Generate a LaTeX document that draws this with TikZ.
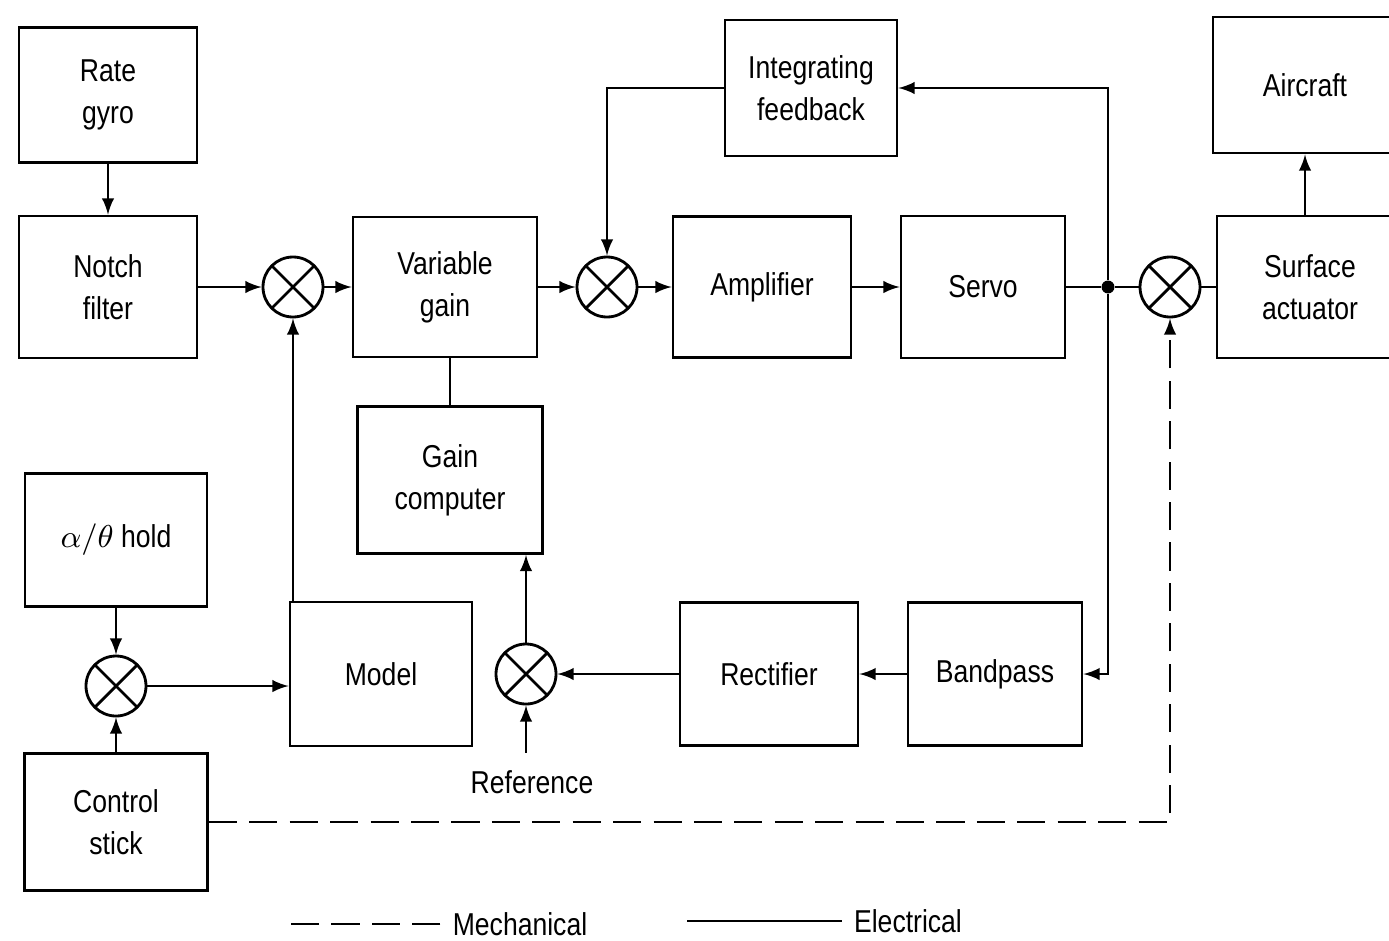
\documentclass[tikz,border=0pt]{standalone}
\usepackage{fontspec}
\setmainfont{Liberation Sans}[FakeStretch=0.84]
\usepackage{tikz}
\usetikzlibrary{arrows,calc,positioning}

\tikzset{
	block/.style={draw, thick, rectangle, align=center, inner sep=2pt},
	mixer/.style={draw, thick, circle, minimum size=6mm, inner sep=0pt,
		path picture={\draw[thick] (path picture bounding box.north west) -- (path picture bounding box.south east)
			(path picture bounding box.north east) -- (path picture bounding box.south west);}},
	elec/.style={semithick},
	mech/.style={semithick, dash pattern=on 8pt off 3.5pt},
	dot/.style={circle, fill, inner sep=1.3pt}
}

\begin{document}
\begin{tikzpicture}[>=latex, font=\fontsize{9}{12}\selectfont]
	\useasboundingbox (0,0) rectangle (13.89,9.40);

	% top row
	\node[block, minimum width=1.78cm, minimum height=1.35cm] (gyro)  at (1.08,8.45)  {Rate\\gyro};
	\node[block, minimum width=1.78cm, minimum height=1.42cm] (notch) at (1.08,6.53)  {Notch\\filter};
	\node[mixer]                                              (sum1)  at (2.93,6.53)  {};
	\node[block, minimum width=1.84cm, minimum height=1.40cm] (vgain) at (4.45,6.53)  {Variable\\gain};
	\node[mixer]                                              (sum2)  at (6.07,6.53)  {};
	\node[block, minimum width=1.72cm, minimum height=1.36cm] (intfb) at (8.11,8.52)  {Integrating\\feedback};
	\node[block, minimum width=1.78cm, minimum height=1.41cm] (amp)   at (7.62,6.53)  {Amplifier};
	\node[block, minimum width=1.64cm, minimum height=1.42cm] (servo) at (9.83,6.53)  {Servo};
	\node[dot]                                                (jn)    at (11.08,6.53) {};
	\node[mixer]                                              (sum3)  at (11.70,6.53) {};
	\node[block, minimum width=1.86cm, minimum height=1.42cm] (surf)  at (13.10,6.53) {Surface\\actuator};
	\node[block, minimum width=1.84cm, minimum height=1.36cm] (acft)  at (13.05,8.55) {Aircraft};
	\node[block, minimum width=1.85cm, minimum height=1.47cm] (gcomp) at (4.50,4.60)  {Gain\\computer};

	% bottom rows
	\node[block, minimum width=1.82cm, minimum height=1.33cm] (hold)  at (1.16,4.00)  {$\alpha/\theta$ hold};
	\node[mixer]                                              (sum4)  at (1.16,2.54)  {};
	\node[block, minimum width=1.83cm, minimum height=1.37cm] (stick) at (1.16,1.18)  {Control\\stick};
	\node[block, minimum width=1.82cm, minimum height=1.44cm] (model) at (3.81,2.66)  {Model};
	\node[mixer]                                              (sum5)  at (5.26,2.66)  {};
	\node[block, minimum width=1.78cm, minimum height=1.43cm] (rect)  at (7.69,2.66)  {Rectifier};
	\node[block, minimum width=1.74cm, minimum height=1.43cm] (bpass) at (9.95,2.66)  {Bandpass};
	\node[inner sep=0pt]                                      (ref)   at (5.32,1.58)  {Reference};

	% electrical paths
	\draw[elec,->] (gyro) -- (notch);
	\draw[elec,->] (notch) -- (sum1);
	\draw[elec,->] (sum1) -- (vgain);
	\draw[elec,->] (vgain) -- (sum2);
	\draw[elec,->] (sum2) -- (amp);
	\draw[elec,->] (amp) -- (servo);
	\draw[elec] (servo) -- (jn) -- (sum3);
	\draw[elec] (sum3) -- (surf);
	\draw[elec,->] (surf.north -| acft) -- (acft.south);
	\draw[elec,->] (jn) |- (intfb.east);
	\draw[elec,->] (intfb.west) -| (sum2);
	\draw[elec,->] (jn) |- (bpass.east);
	\draw[elec,->] (bpass) -- (rect);
	\draw[elec,->] (rect) -- (sum5);
	\draw[elec,->] (sum5) -- (sum5 |- gcomp.south);
	\draw[elec,->] (ref.north -| sum5) ++(0,0.17) -- (sum5);
	\draw[elec] (gcomp.north) -- (gcomp.north |- vgain.south);
	\draw[elec,->] (sum1 |- model.north) -- (sum1);
	\draw[elec,->] (hold) -- (sum4);
	\draw[elec,->] (stick) -- (sum4);
	\draw[elec,->] (sum4) -- (sum4 -| model.west);

	% mechanical link
	\draw[mech,->] (stick.east) -| (sum3);

	% key
	\node (mkey) at (5.20,0.16) {Mechanical};
	\node (ekey) at (9.08,0.19) {Electrical};
	\draw[mech] (mkey.west) -- ++(-1.55,0);
	\draw[elec] (ekey.west) -- ++(-1.55,0);
\end{tikzpicture}
\end{document}
